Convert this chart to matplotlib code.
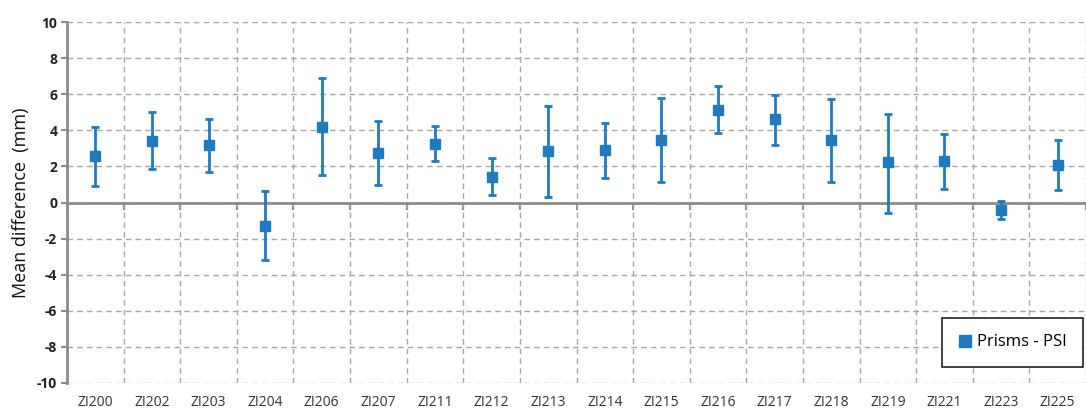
import matplotlib
matplotlib.use("Agg")
import matplotlib.pyplot as plt
from matplotlib.lines import Line2D
import numpy as np

plt.rcParams['font.family'] = ['Open Sans', 'DejaVu Sans']

categories = ["ZI200", "ZI202", "ZI203", "ZI204", "ZI206", "ZI207", "ZI211", "ZI212", "ZI213",
              "ZI214", "ZI215", "ZI216", "ZI217", "ZI218", "ZI219", "ZI221", "ZI223", "ZI225"]
means = [2.55, 3.42, 3.16, -1.31, 4.19, 2.73, 3.25, 1.42, 2.84,
         2.90, 3.49, 5.15, 4.60, 3.49, 2.22, 2.29, -0.44, 2.07]
upper = [4.19, 5.00, 4.65, 0.63, 6.92, 4.49, 4.23, 2.44, 5.34,
         4.43, 5.78, 6.48, 5.95, 5.76, 4.93, 3.78, 0.11, 3.45]
lower = [0.90, 1.87, 1.68, -3.21, 1.51, 0.96, 2.29, 0.44, 0.29,
         1.35, 1.15, 3.84, 3.21, 1.15, -0.57, 0.76, -0.90, 0.70]
series_name = "Prisms - PSI"
yticks = [-10, -8, -6, -4, -2, 0, 2, 4, 6, 8, 10]

color = '#1f7ac0'
grey = '#8c8c8c'

fig = plt.figure(figsize=(10.86, 4.12), dpi=100)
ax = fig.add_axes([67/1086, 1-383/412, 1-67/1086, (383-22)/412])

x = np.arange(len(categories))
m = np.array(means)
err = np.vstack([m - np.array(lower), np.array(upper) - m])
ax.errorbar(x, m, yerr=err, fmt='s', color=color, ecolor=color, elinewidth=2,
            capsize=2.7, capthick=2, markersize=7.5, zorder=3)

ax.set_ylim(-10, 10)
ax.set_xlim(-0.5, -0.5 + (1086-67)/57.1)
ax.set_yticks(yticks)
ax.set_yticklabels([str(t) for t in yticks], fontweight='bold', fontsize=10, color='#222222')
ax.set_xticks(x)
ax.set_xticklabels(categories, fontsize=10, color='#333333')
ax.tick_params(axis='x', length=0, pad=9)
ax.tick_params(axis='y', length=4, width=1.5, color=grey, direction='out', pad=3)
ax.set_xticks(np.arange(len(categories)+1) - 0.5, minor=True)
ax.tick_params(axis='x', which='minor', length=0)

ax.grid(False)
ax.yaxis.grid(True, which='major', linestyle=(0, (4, 3)), color='#a6a6a6', linewidth=1)
ax.xaxis.grid(True, which='minor', linestyle=(0, (4, 3)), color='#a6a6a6', linewidth=1)
ax.set_axisbelow(True)

for s in ['top', 'right', 'bottom']:
    ax.spines[s].set_visible(False)
ax.spines['left'].set_color(grey)
ax.spines['left'].set_linewidth(2)

ax.axhline(0, color=grey, linewidth=2, zorder=2)
sec = ax.secondary_xaxis(0.5)
sec.set_xticks(np.arange(len(categories)+1) - 0.5)
sec.set_xticklabels([])
sec.tick_params(length=5, width=1.5, color=grey, direction='out', bottom=True, top=False)
for s in sec.spines.values():
    s.set_visible(False)

ax.set_ylabel("Mean difference  (mm)", fontsize=13, color='#111111', labelpad=5)

handle = Line2D([], [], linestyle='none', marker='s', color=color, markersize=8)
leg = ax.legend([handle], [series_name], loc='lower right',
                bbox_to_anchor=((1083-67)/1019, (383-367)/361),
                fancybox=False, framealpha=1, edgecolor='#222222', fontsize=12,
                handlelength=0.8, handletextpad=0.3, borderpad=1.0, borderaxespad=0)
leg.get_frame().set_linewidth(1.2)

fig.savefig('out.png', dpi=100)
